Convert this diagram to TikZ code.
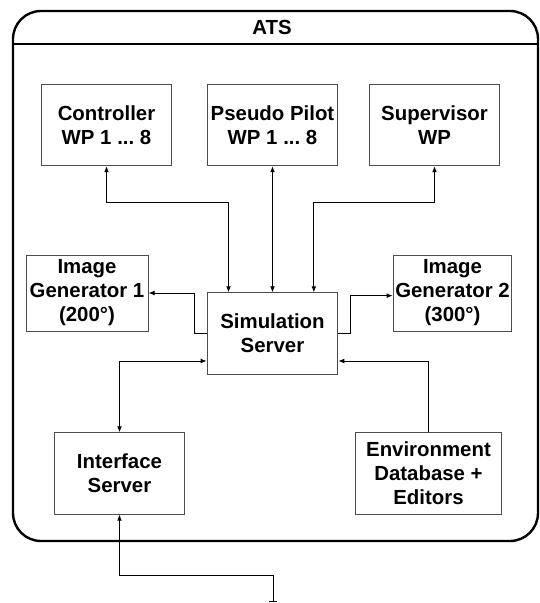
\documentclass[tikz,border=0pt]{standalone}
\usepackage{fontspec}
\setmainfont{Liberation Sans}
\frenchspacing
\usetikzlibrary{arrows.meta,calc,positioning}

\begin{document}
\begin{tikzpicture}[x=0.75pt, y=-0.75pt, >={Latex[length=4.5pt,width=3.6pt]},
    every node/.style={font=\fontsize{15.3}{18}\selectfont\bfseries, align=center}]
    \tikzset{unit/.style={draw=black!70, line width=0.75pt, inner sep=0pt,
        minimum width=98pt, minimum height=61pt},
      link/.style={line width=0.7pt}}
    \useasboundingbox (0,0) rectangle (539,603);
    \draw[line width=1.8pt, rounded corners=21pt] (13,11) rectangle (538,541);
    \draw[line width=1.8pt] (13,44) -- (538,44);
    \node (ats) at (272,27) {ATS};
    \node[unit] (ctrl) at (106.5,125) {Controller\\WP 1 ... 8};
    \node[unit] (pil) at (272.5,125) {Pseudo Pilot\\WP 1 ... 8};
    \node[unit] (sup) at (434.5,125) {Supervisor\\WP};
    \node[unit] (srv) at (272.5,333.5) {Simulation\\Server};
    \node[unit, minimum width=91.5pt, minimum height=57pt] (ig1) at (87,293) {Image\\Generator 1\\(200°)};
    \node[unit, minimum width=89pt, minimum height=57pt] (ig2) at (452.5,293) {Image\\Generator 2\\(300°)};
    \node[unit] (ifs) at (119.5,473.5) {Interface\\Server};
    \node[unit, minimum width=109pt] (env) at (428.5,473.5) {Environment\\Database +\\Editors};
    \coordinate (ext) at (273,602);
    \draw[link,<->] (ctrl.south) -- ++(0,36) -| ([xshift=-33pt]srv.north);
    \draw[link,<->] (pil.south) -- (srv.north);
    \draw[link,<->] (sup.south) -- ++(0,36) -| ([xshift=31pt]srv.north);
    \draw[link,->] (srv.west) -- ++(-12,0) |- (ig1.east);
    \draw[link,->] (srv.east) -- ++(12,0) |- ([yshift=-2pt]ig2.west);
    \draw[link,<->] ([yshift=-20.6pt]srv.west) -| (ifs.north);
    \draw[link,->] (env.north) |- ([yshift=-20.6pt]srv.east);
    \draw[link,{Bar[width=6pt]}->] (ext) -- ++(0,-27) -| (ifs.south);
\end{tikzpicture}
\end{document}
